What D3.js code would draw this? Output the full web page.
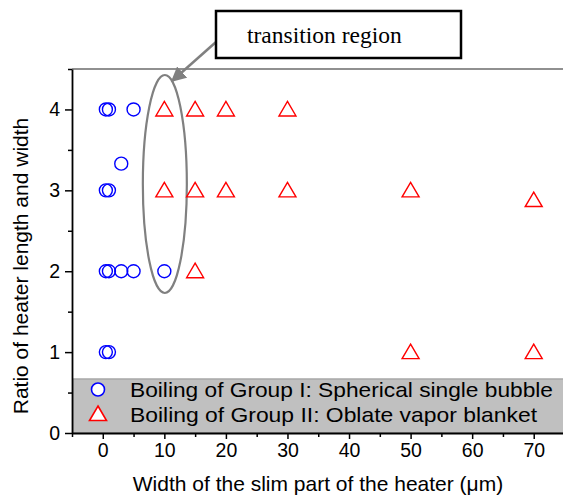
<!DOCTYPE html>
<html>
<head>
<meta charset="utf-8">
<script src="https://cdn.jsdelivr.net/npm/d3@7/dist/d3.min.js"></script>
<style>
  html, body { margin: 0; padding: 0; background: #fff; }
  svg { display: block; }
</style>
</head>
<body>
<svg id="chart" width="563" height="497"></svg>
<script>
// Group I: spherical single bubble
const groupIWidth = [0.5, 1, 5, 3, 0.5, 1, 0.5, 1, 3, 5, 10, 0.5, 1];
const groupIRatio = [4, 4, 4, 3.33, 3, 3, 2, 2, 2, 2, 2, 1, 1];
// Group II: oblate vapor blanket
const groupIIWidth = [10, 15, 20, 30, 10, 15, 20, 30, 50, 70, 15, 50, 70];
const groupIIRatio = [4, 4, 4, 4, 3, 3, 3, 3, 3, 2.88, 2, 1, 1];

const xTicks = [0, 10, 20, 30, 40, 50, 60, 70];
const yTicks = [0, 1, 2, 3, 4];
const legendLabels = [
  "Boiling of Group I: Spherical single bubble",
  "Boiling of Group II: Oblate vapor blanket"
];

const svg = d3.select("#chart");
const font = "Liberation Sans, Arial, Helvetica, sans-serif";

const x = d3.scaleLinear().domain([-5, 75]).range([72, 564.5]);
const y = d3.scaleLinear().domain([0, 4.5]).range([433, 69]);

// top frame line
svg.append("line")
  .attr("x1", x(-5)).attr("x2", 563)
  .attr("y1", y(4.5)).attr("y2", y(4.5))
  .attr("stroke", "#222").attr("stroke-width", 1.2);

// legend panel sits on the bottom of the plot area
const legendTop = 379;
svg.append("rect")
  .attr("x", x(-5) + 1).attr("y", legendTop)
  .attr("width", 563 - x(-5)).attr("height", y(0) - legendTop)
  .attr("fill", "#c0c0c0").attr("stroke", "#a8a8a8").attr("stroke-width", 1.5);

// axes
const xAxis = d3.axisBottom(x).tickValues(xTicks).tickFormat(d3.format("d"))
  .tickSize(6).tickPadding(4).tickSizeOuter(0);
const xMinor = d3.axisBottom(x).tickValues([-5, 5, 15, 25, 35, 45, 55, 65, 75]).tickSize(4).tickFormat("");
const yAxis = d3.axisLeft(y).tickValues(yTicks).tickFormat(d3.format("d"))
  .tickSize(7).tickPadding(5).tickSizeOuter(0);
const yMinor = d3.axisLeft(y).tickValues([0.5, 1.5, 2.5, 3.5, 4.5]).tickSize(4).tickFormat("");

function styleAxis(g) {
  g.select(".domain").attr("stroke", "#000").attr("stroke-width", 1.8);
  g.selectAll(".tick line").attr("stroke", "#000").attr("stroke-width", 1.5);
  g.selectAll(".tick text").attr("fill", "#000")
    .style("font-family", font).style("font-size", "19.5px");
}

svg.append("g").attr("transform", `translate(0,${y(0)})`).call(xMinor).call(styleAxis)
  .select(".domain").remove();
svg.append("g").attr("transform", `translate(0,${y(0)})`).call(xAxis).call(styleAxis);
svg.append("g").attr("transform", `translate(${x(-5)},0)`).call(yMinor).call(styleAxis)
  .select(".domain").remove();
svg.append("g").attr("transform", `translate(${x(-5)},0)`).call(yAxis).call(styleAxis);

// axis titles
svg.append("text")
  .attr("x", 318).attr("y", 491)
  .attr("text-anchor", "middle")
  .style("font-family", font).style("font-size", "21px")
  .text("Width of the slim part of the heater (\u03bcm)");

svg.append("text")
  .attr("transform", "translate(28,266) rotate(-90)")
  .attr("text-anchor", "middle")
  .style("font-family", font).style("font-size", "21px")
  .text("Ratio of heater length and width");

// transition region ellipse
svg.append("ellipse")
  .attr("cx", x(10) + 0.5).attr("cy", 184)
  .attr("rx", 22).attr("ry", 109)
  .attr("fill", "none").attr("stroke", "#808080").attr("stroke-width", 2.2);

// markers
const circleR = 6.5;
const triPath = "M0,-8 L8.5,6.5 L-8.5,6.5 Z";

svg.append("g").selectAll("circle")
  .data(d3.zip(groupIWidth, groupIRatio))
  .join("circle")
  .attr("cx", d => x(d[0])).attr("cy", d => y(d[1]))
  .attr("r", circleR)
  .attr("fill", "none").attr("stroke", "#0000ff").attr("stroke-width", 1.4);

svg.append("g").selectAll("path")
  .data(d3.zip(groupIIWidth, groupIIRatio))
  .join("path")
  .attr("transform", d => `translate(${x(d[0])},${y(d[1])})`)
  .attr("d", triPath)
  .attr("fill", "none").attr("stroke", "#ff0000").attr("stroke-width", 1.4);

// legend entries: wide, slightly stretched lettering
const legendRows = [389.5, 414];
const legendWidths = [423, 407];
svg.append("circle")
  .attr("cx", 98).attr("cy", legendRows[0]).attr("r", circleR)
  .attr("fill", "#fff").attr("stroke", "#0000ff").attr("stroke-width", 1.6);
svg.append("path")
  .attr("transform", `translate(98,${legendRows[1]})`)
  .attr("d", triPath)
  .attr("fill", "#fff").attr("stroke", "#ff0000").attr("stroke-width", 1.6);
svg.selectAll(".legend-label")
  .data(legendLabels)
  .join("text")
  .attr("class", "legend-label")
  .attr("x", 130).attr("y", (d, i) => legendRows[i] + 7.5)
  .attr("textLength", (d, i) => legendWidths[i])
  .attr("lengthAdjust", "spacingAndGlyphs")
  .style("font-family", font).style("font-size", "21px")
  .text(d => d);

// annotation box and arrow
const boxX = 216, boxY = 11, boxW = 245, boxH = 47;
svg.append("defs").append("marker")
  .attr("id", "arrowhead")
  .attr("viewBox", "0 0 10 10")
  .attr("refX", 9).attr("refY", 5)
  .attr("markerWidth", 6).attr("markerHeight", 6)
  .attr("markerUnits", "strokeWidth")
  .attr("orient", "auto")
  .append("path").attr("d", "M0,0 L10,5 L0,10 Z").attr("fill", "#808080");

svg.append("line")
  .attr("x1", boxX).attr("y1", 42)
  .attr("x2", 172).attr("y2", 81)
  .attr("stroke", "#808080").attr("stroke-width", 2.5)
  .attr("marker-end", "url(#arrowhead)");

svg.append("rect")
  .attr("x", boxX).attr("y", boxY).attr("width", boxW).attr("height", boxH)
  .attr("fill", "#fff").attr("stroke", "#000").attr("stroke-width", 2.5);

svg.append("text")
  .attr("x", 247).attr("y", 43)
  .style("font-family", "Liberation Serif, Times New Roman, serif")
  .style("font-size", "23.5px")
  .text("transition region");
</script>
</body>
</html>
